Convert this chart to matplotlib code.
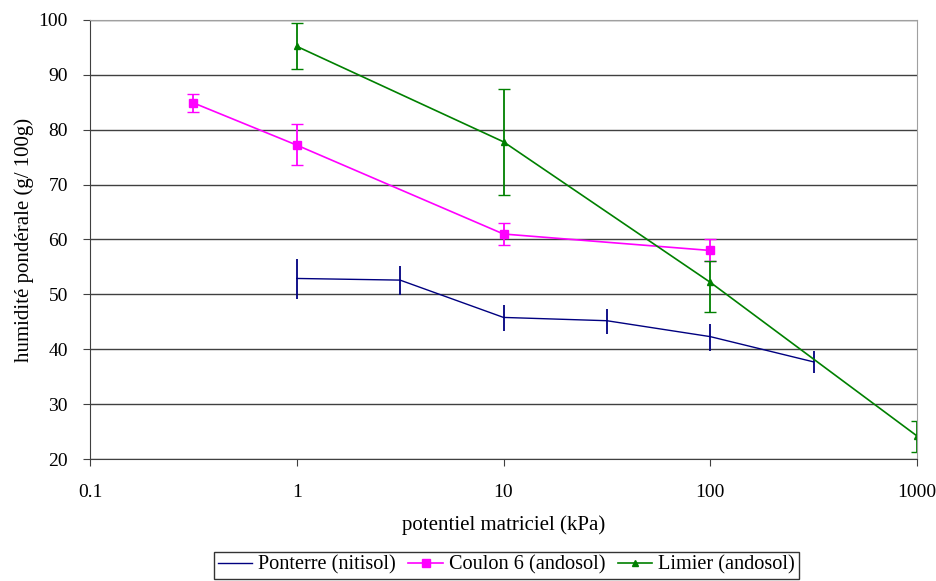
import numpy as np
import matplotlib.pyplot as plt
from matplotlib.lines import Line2D

plt.rcParams['font.family'] = ['Liberation Serif', 'DejaVu Serif']

# Ponterre (nitisol)
pon_x = [1, 3.16, 10, 31.6, 100, 316]
pon_y = [52.9, 52.6, 45.8, 45.2, 42.3, 37.7]
pon_lo = [49.1, 49.9, 43.4, 42.8, 39.7, 35.7]
pon_hi = [56.4, 55.2, 48.1, 47.3, 44.6, 39.6]

# Coulon 6 (andosol)
cou_x = [0.316, 1, 10, 100]
cou_y = [84.9, 77.2, 61.0, 58.0]
cou_lo = [83.3, 73.5, 59.0, 56.0]
cou_hi = [86.5, 81.0, 63.0, 60.0]

# Limier (andosol)
lim_x = [1, 10, 100, 1000]
lim_y = [95.2, 77.8, 52.2, 24.2]
lim_lo = [91.0, 68.2, 46.8, 21.2]
lim_hi = [99.5, 87.5, 56.0, 27.0]

def err(y, lo, hi):
    y = np.array(y)
    return [y - np.array(lo), np.array(hi) - y]

fig = plt.figure(figsize=(9.36, 5.81), dpi=100)
ax = fig.add_axes([90/936, 1 - 459/581, 827/936, 439/581])

ax.errorbar(pon_x, pon_y, yerr=err(pon_y, pon_lo, pon_hi), color='#000080',
            lw=1, elinewidth=1.3, capsize=0)
ax.errorbar(cou_x, cou_y, yerr=err(cou_y, cou_lo, cou_hi), color='#FF00FF',
            lw=1.2, marker='s', ms=6, elinewidth=1.3, capsize=4)
ax.errorbar(lim_x, lim_y, yerr=err(lim_y, lim_lo, lim_hi), color='#008000',
            lw=1.2, marker='^', ms=4, elinewidth=1.3, capsize=4)

ax.set_xscale('log')
ax.set_xlim(0.1, 1000)
ax.set_ylim(20, 100)
ax.set_xticks([0.1, 1, 10, 100, 1000])
ax.set_xticklabels(['0.1', '1', '10', '100', '1000'])
ax.xaxis.set_minor_locator(plt.NullLocator())
ax.set_yticks(range(20, 101, 10))
ax.grid(axis='y', color='#404040', lw=1)
ax.set_axisbelow(True)
ax.tick_params(labelsize=14, direction='out', length=5, color='#404040')
ax.tick_params(axis='y', pad=11)
ax.tick_params(axis='x', pad=13)
for s in ['top', 'right']:
    ax.spines[s].set_color('#a0a0a0')
for s in ['left', 'bottom']:
    ax.spines[s].set_color('#404040')

ax.set_xlabel('potentiel matriciel (kPa)', fontsize=15, labelpad=10)
ax.set_ylabel('humidité pondérale (g/ 100g)', fontsize=15, labelpad=3)

handles = [
    Line2D([], [], color='#000080', lw=1),
    Line2D([], [], color='#FF00FF', lw=1.2, marker='s', ms=6),
    Line2D([], [], color='#008000', lw=1.2, marker='^', ms=4),
]
labels = ['Ponterre (nitisol)', 'Coulon 6 (andosol)', 'Limier (andosol)']
leg = fig.legend(handles, labels, loc='lower center', bbox_to_anchor=(0.541, 0.0),
                 ncol=3, fontsize=14.6, frameon=True, fancybox=False, edgecolor='black',
                 handlelength=1.7, handletextpad=0.3, columnspacing=0.6,
                 borderpad=0.2, borderaxespad=0.1)
leg.get_frame().set_linewidth(1)

fig.savefig('out.png', dpi=100)
